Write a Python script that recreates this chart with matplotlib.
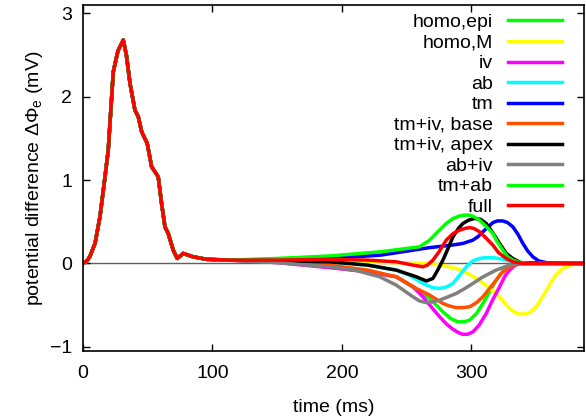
import matplotlib
matplotlib.use("Agg")
import matplotlib.pyplot as plt

plt.rcParams['font.family'] = ['Liberation Sans', 'DejaVu Sans']
plt.rcParams['mathtext.fontset'] = 'custom'
plt.rcParams['mathtext.rm'] = 'Liberation Sans'
plt.rcParams['mathtext.it'] = 'Liberation Sans:italic'

# common QRS part (all series)
t_qrs = [0, 3, 5.2, 9.3, 13.1, 17, 19.5, 23.4, 27, 31.1, 33.5, 36.3, 40.1, 42.7, 45.3, 49.6, 53, 58.1,
         60.7, 63.3, 65.8, 69.7, 72.8, 77.4, 85, 95.4, 113]
v_qrs = [0, 0.03, 0.08, 0.24, 0.56, 1.04, 1.36, 2.30, 2.55, 2.68, 2.50, 2.16, 1.84, 1.76, 1.58, 1.44, 1.16, 1.04,
         0.72, 0.44, 0.36, 0.16, 0.06, 0.12, 0.08, 0.05, 0.04]

# T-wave parts
t_homo_epi = [150, 190, 220, 242, 257.5, 267.8, 278, 284, 289.6, 294, 298.6, 304, 308.9, 314, 319.2, 324, 328.2, 335, 345, 387]
v_homo_epi = [0.02, -0.04, -0.10, -0.16, -0.31, -0.42, -0.58, -0.66, -0.70, -0.70, -0.68, -0.60, -0.48, -0.34, -0.20, -0.10, -0.04, -0.01, 0, 0]

t_homo_m = [150, 200, 240, 267.8, 280, 288.3, 296, 303.8, 311, 319.2, 325, 329.5, 334, 339.3, 345, 350.1, 355, 360.3, 365, 370.6, 378.4, 387]
v_homo_m = [0.03, 0.02, 0.01, 0, -0.03, -0.06, -0.11, -0.18, -0.26, -0.36, -0.46, -0.54, -0.59, -0.61, -0.59, -0.52, -0.40, -0.26, -0.14, -0.06, -0.01, 0]

t_iv = [150, 190, 220, 242, 255, 262.6, 269, 275.5, 281, 285.8, 290, 293.5, 297, 301.2, 306, 311.5, 316, 321.8, 326, 329.5, 333, 337.2, 387]
v_iv = [0.01, -0.05, -0.10, -0.16, -0.28, -0.40, -0.52, -0.64, -0.73, -0.79, -0.83, -0.85, -0.85, -0.82, -0.74, -0.60, -0.45, -0.28, -0.15, -0.08, -0.03, 0, 0]

t_ab = [150, 190, 220, 242, 252, 262.6, 270, 275.5, 281, 285.8, 291, 296.1, 301, 306.3, 311, 316.6, 321, 326.9, 332, 340, 387]
v_ab = [0.03, 0.02, -0.02, -0.08, -0.14, -0.24, -0.29, -0.30, -0.28, -0.24, -0.14, -0.04, 0.03, 0.06, 0.07, 0.07, 0.06, 0.04, 0.02, 0, 0]

t_tm = [150, 190.6, 230, 267.8, 285, 293.5, 301.2, 305, 308.9, 313, 316.6, 320, 324.3, 328, 332, 336, 339.8, 343.5, 347.5, 352, 357.8, 365, 387]
v_tm = [0.05, 0.06, 0.10, 0.19, 0.22, 0.24, 0.28, 0.32, 0.38, 0.44, 0.49, 0.51, 0.51, 0.49, 0.44, 0.35, 0.24, 0.15, 0.08, 0.03, 0.01, 0, 0]

t_tm_iv_base = [150, 190, 220, 242, 257.5, 267.8, 278, 283, 288.3, 293, 298.6, 304, 308.9, 314, 319.2, 323, 326.9, 331, 336, 387]
v_tm_iv_base = [0.02, -0.02, -0.08, -0.16, -0.30, -0.38, -0.48, -0.51, -0.53, -0.53, -0.52, -0.47, -0.40, -0.30, -0.20, -0.12, -0.07, -0.03, 0, 0]

t_tm_iv_apex = [150, 190, 220, 242, 257.5, 265.2, 270.3, 274, 278, 282, 285.8, 290, 293.5, 298, 302.5, 307, 311.5, 316, 321.8, 327, 332, 338, 387]
v_tm_iv_apex = [0.03, 0.02, -0.02, -0.08, -0.16, -0.21, -0.18, -0.08, 0.04, 0.18, 0.32, 0.42, 0.48, 0.52, 0.54, 0.53, 0.48, 0.38, 0.24, 0.12, 0.06, 0.01, 0]

t_ab_iv = [150, 190, 210, 229.2, 242, 254.9, 260, 265.2, 270, 275.5, 282, 288.3, 295, 301.2, 308, 314, 319, 324.3, 329, 334.6, 387]
v_ab_iv = [0.01, -0.04, -0.08, -0.16, -0.26, -0.40, -0.45, -0.47, -0.46, -0.44, -0.40, -0.36, -0.30, -0.24, -0.17, -0.12, -0.08, -0.05, -0.02, 0, 0]

t_tm_ab = [150, 190.6, 230, 260, 267.8, 274, 280.6, 286, 290.9, 295, 298.6, 302, 306.3, 311, 316.6, 320, 324.3, 328, 332, 338, 345, 387]
v_tm_ab = [0.06, 0.09, 0.14, 0.20, 0.28, 0.38, 0.48, 0.54, 0.57, 0.58, 0.58, 0.56, 0.52, 0.45, 0.36, 0.26, 0.16, 0.08, 0.04, 0.01, 0, 0]

t_full = [150, 190, 220, 242, 254.9, 262.6, 266, 270.3, 275, 280.6, 286, 290.9, 295, 298.6, 302, 306.3, 311, 316.6, 321, 326.9, 332, 340, 387]
v_full = [0.04, 0.05, 0.04, 0.02, -0.02, -0.04, -0.02, 0.04, 0.14, 0.28, 0.36, 0.40, 0.42, 0.43, 0.42, 0.38, 0.31, 0.22, 0.13, 0.06, 0.02, 0, 0]

labels = ['homo,epi', 'homo,M', 'iv', 'ab', 'tm', 'tm+iv, base', 'tm+iv, apex', 'ab+iv', 'tm+ab', 'full']
tails_t = [t_homo_epi, t_homo_m, t_iv, t_ab, t_tm, t_tm_iv_base, t_tm_iv_apex, t_ab_iv, t_tm_ab, t_full]
tails_v = [v_homo_epi, v_homo_m, v_iv, v_ab, v_tm, v_tm_iv_base, v_tm_iv_apex, v_ab_iv, v_tm_ab, v_full]
colors = ['#00ff00', '#ffff00', '#ff00ff', '#00ffff', '#0000ff', '#ff5000', '#000000', '#808080', '#00ff00', '#ff0000']

fig = plt.figure(figsize=(5.86, 4.19), dpi=100)
ax = fig.add_axes([83 / 586, 68 / 419, 501 / 586, 346 / 419])

ax.axhline(0, color='#606060', lw=1.0, zorder=1)

for lab, tt, vv, c in zip(labels, tails_t, tails_v, colors):
    ax.plot(t_qrs + tt, v_qrs + vv, color=c, lw=2.5, label=lab, solid_joinstyle='round', zorder=2)

ax.set_xlim(0, 387)
ax.set_ylim(-1.05, 3.1)
ax.set_xticks([0, 100, 200, 300])
ax.set_yticks([-1, 0, 1, 2, 3])
ax.tick_params(direction='in', length=5, width=1, top=True, right=True, labelsize=14)
ax.tick_params(axis='x', pad=10)
ax.tick_params(axis='y', pad=8)
for s in ax.spines.values():
    s.set_linewidth(1.2)

ax.set_xlabel('time (ms)', fontsize=14, labelpad=12)
ax.set_ylabel(r'potential difference $\Delta\Phi_\mathrm{e}$ (mV)', fontsize=14, labelpad=3)

leg = ax.legend(loc='upper right', bbox_to_anchor=(0.956, 0.975), markerfirst=False, frameon=False,
                fontsize=14, handlelength=2.8, handletextpad=0.75, labelspacing=0.15,
                borderaxespad=0, borderpad=0)

fig.savefig('out.png', dpi=100)
